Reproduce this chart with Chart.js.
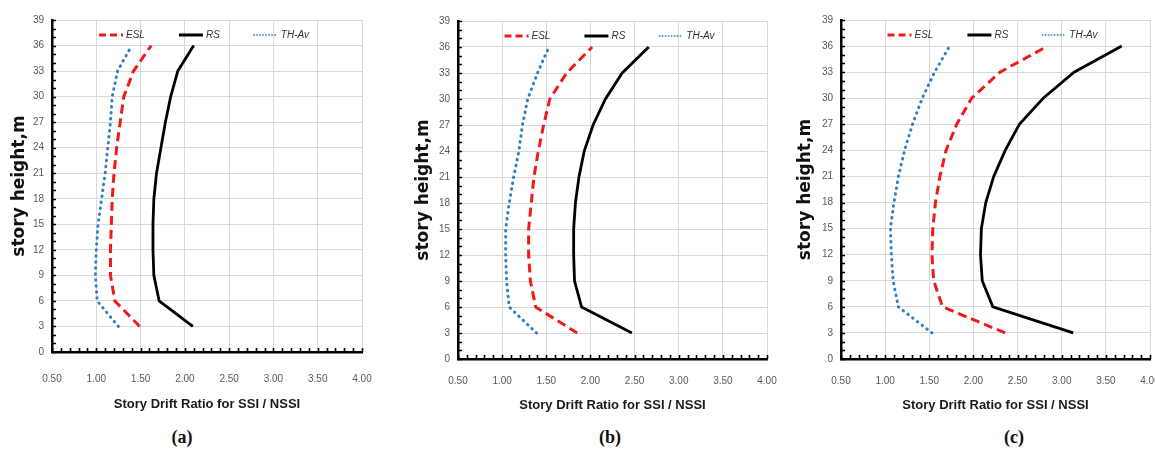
<!DOCTYPE html>
<html>
<head>
<meta charset="utf-8">
<script src="https://cdn.jsdelivr.net/npm/chart.js@4.4.1/dist/chart.umd.min.js"></script>
<style>
  html, body { margin: 0; padding: 0; background: #fff; }
  body { width: 1155px; height: 452px; overflow: hidden; position: relative; }
  canvas { position: absolute; }
  .cap { position: absolute; top: 427px; font: bold 18px 'Liberation Serif', 'DejaVu Serif', serif; color: #111; transform: translateX(-50%); }
</style>
</head>
<body>
<canvas id="panelA" width="380" height="420" style="left:0px;top:0px"></canvas>
<canvas id="panelB" width="379" height="427" style="left:406px;top:0px"></canvas>
<canvas id="panelC" width="366" height="427" style="left:789px;top:0px"></canvas>
<div class="cap" style="left:182px">(a)</div>
<div class="cap" style="left:610px">(b)</div>
<div class="cap" style="left:1014px">(c)</div>

<script>
// Story heights (m) at which drift ratios are reported
const heights = [3, 6, 9, 12, 15, 18, 21, 24, 27, 30, 33, 36];

// Panel (a)
const eslA = [1.49, 1.21, 1.16, 1.16, 1.17, 1.18, 1.20, 1.23, 1.27, 1.31, 1.42, 1.62];
const rsA  = [2.09, 1.71, 1.65, 1.64, 1.64, 1.65, 1.68, 1.73, 1.78, 1.84, 1.92, 2.10];
const thA  = [1.25, 1.01, 0.99, 1.00, 1.02, 1.06, 1.10, 1.13, 1.16, 1.18, 1.24, 1.40];

// Panel (b)
const eslB = [1.85, 1.38, 1.32, 1.30, 1.30, 1.33, 1.36, 1.41, 1.47, 1.54, 1.73, 2.02];
const rsB  = [2.47, 1.90, 1.82, 1.81, 1.81, 1.83, 1.87, 1.93, 2.03, 2.17, 2.36, 2.66];
const thB  = [1.39, 1.08, 1.05, 1.04, 1.04, 1.08, 1.13, 1.19, 1.23, 1.29, 1.40, 1.53];

// Panel (c)
const eslC = [2.36, 1.65, 1.55, 1.53, 1.54, 1.57, 1.62, 1.69, 1.81, 1.98, 2.30, 2.84];
const rsC  = [3.13, 2.22, 2.10, 2.08, 2.09, 2.14, 2.23, 2.36, 2.52, 2.79, 3.14, 3.68];
const thC  = [1.53, 1.15, 1.09, 1.07, 1.06, 1.10, 1.15, 1.22, 1.31, 1.42, 1.56, 1.73];

// Axis ticks
const xTicks = [0.5, 1.0, 1.5, 2.0, 2.5, 3.0, 3.5, 4.0];
const xTickLabels = ['0.50', '1.00', '1.50', '2.00', '2.50', '3.00', '3.50', '4.00'];
const yTicks = [0, 3, 6, 9, 12, 15, 18, 21, 24, 27, 30, 33, 36, 39];
const yTickLabels = ['0', '3', '6', '9', '12', '15', '18', '21', '24', '27', '30', '33', '36', '39'];

const seriesNames = ['ESL', 'RS', 'TH-Av'];
const xTitle = 'Story Drift Ratio for SSI / NSSI';
const yTitle = 'story height,m';

const NARROW = "'Liberation Sans Narrow', 'Liberation Sans', Arial, sans-serif";

// Small inward tick marks along the left and bottom axes
const minorTicks = {
  id: 'minorTicks',
  afterDraw(chart) {
    const { ctx, chartArea: a, scales: { x, y } } = chart;
    ctx.save();
    ctx.strokeStyle = '#000';
    ctx.lineWidth = 1.6;
    ctx.beginPath();
    for (let i = 5; i <= 40; i++) {
      const px = Math.round(x.getPixelForValue(i / 10)) + 0.5;
      ctx.moveTo(px, a.bottom);
      ctx.lineTo(px, a.bottom - 4);
    }
    for (let j = 0; j <= 39; j++) {
      const py = Math.round(y.getPixelForValue(j)) + 0.5;
      ctx.moveTo(a.left, py);
      ctx.lineTo(a.left + 4, py);
    }
    ctx.stroke();
    ctx.restore();
  }
};

// Legend drawn in a row inside the top of the plot area
const insideLegend = {
  id: 'insideLegend',
  afterDraw(chart) {
    const { ctx, chartArea: a } = chart;
    const ds = chart.data.datasets;
    ctx.save();
    ctx.font = "italic 10px " + NARROW;
    const sw = 24, gap = 3, sp = 34;
    const widths = ds.map(d => sw + gap + ctx.measureText(d.label).width);
    const total = widths.reduce((s, w) => s + w, 0) + sp * (ds.length - 1);
    let x = (a.left + a.right) / 2 - total / 2 - 3;
    const yy = a.top + 15;
    ds.forEach((d, i) => {
      ctx.save();
      ctx.strokeStyle = d.borderColor;
      ctx.lineWidth = d.legendWidth || d.borderWidth;
      ctx.lineCap = d.borderCapStyle || 'butt';
      ctx.setLineDash(d.legendDash || d.borderDash || []);
      ctx.beginPath();
      ctx.moveTo(x, yy);
      ctx.lineTo(x + sw, yy);
      ctx.stroke();
      ctx.restore();
      ctx.fillStyle = '#333';
      ctx.textBaseline = 'middle';
      ctx.textAlign = 'left';
      ctx.fillText(d.label, x + sw + gap, yy);
      x += widths[i] + sp;
    });
    ctx.restore();
  }
};

function toPoints(vals) {
  return vals.map((v, i) => ({ x: v, y: heights[i] }));
}

function makePanel(id, esl, rs, th, cfg) {
  const datasets = [
    { label: seriesNames[0], data: toPoints(esl), borderColor: '#f01a1a', borderWidth: 3,
      borderDash: [9, 5], legendDash: [7, 4], legendWidth: 3 },
    { label: seriesNames[1], data: toPoints(rs), borderColor: '#000000', borderWidth: 2.8,
      legendWidth: 3 },
    { label: seriesNames[2], data: toPoints(th), borderColor: '#2f7fc4', borderWidth: 3,
      borderDash: [0.5, 5.5], borderCapStyle: 'round', legendDash: [0.5, 2.5], legendWidth: 1.6 }
  ].map(d => Object.assign({ showLine: true, pointRadius: 0, tension: 0, fill: false }, d));

  new Chart(document.getElementById(id), {
    type: 'scatter',
    data: { datasets },
    options: {
      responsive: false,
      animation: false,
      devicePixelRatio: 1,
      layout: { padding: { top: cfg.top, right: cfg.right, left: 0, bottom: 0 } },
      plugins: { legend: { display: false }, tooltip: { enabled: false } },
      scales: {
        x: {
          type: 'linear', min: 0.5, max: 4,
          afterBuildTicks: s => { s.ticks = xTicks.map(v => ({ value: v })); },
          afterFit: s => { s.height = cfg.xh; s.paddingLeft = 0; s.paddingRight = 0; },
          ticks: { callback: (v, i) => xTickLabels[i], padding: cfg.xLabPad, color: '#595959',
                   font: { family: NARROW, size: 10 }, maxRotation: 0, autoSkip: false },
          grid: { color: '#d9d9d9', lineWidth: 1, drawTicks: false },
          border: { color: '#000', width: 2.5 },
          title: { display: true, text: xTitle, color: '#1a1a1a',
                   font: { family: NARROW, weight: 'bold', size: 13 },
                   padding: { top: 0, bottom: cfg.xTitlePad } }
        },
        y: {
          type: 'linear', min: 0, max: 39,
          afterBuildTicks: s => { s.ticks = yTicks.map(v => ({ value: v })); },
          afterFit: s => { s.width = 52; },
          ticks: { callback: (v, i) => yTickLabels[i], padding: 8, color: '#595959',
                   font: { family: NARROW, size: 10 }, autoSkip: false },
          grid: { color: '#d9d9d9', lineWidth: 1, drawTicks: false },
          border: { color: '#000', width: 2.5 },
          title: { display: true, text: yTitle, color: '#111',
                   font: { family: "'DejaVu Sans', sans-serif", weight: 'bold', size: 17 },
                   padding: { top: cfg.yTitlePad, bottom: 0 } }
        }
      }
    },
    plugins: [minorTicks, insideLegend]
  });
}

makePanel('panelA', eslA, rsA, thA, { top: 20, right: 18, xh: 68, xLabPad: 21, xTitlePad: 8, yTitlePad: 9 });
makePanel('panelB', eslB, rsB, thB, { top: 21, right: 18, xh: 68, xLabPad: 16, xTitlePad: 14, yTitlePad: 7 });
makePanel('panelC', eslC, rsC, thC, { top: 20, right: 5, xh: 68, xLabPad: 16, xTitlePad: 14, yTitlePad: 6 });
</script>
</body>
</html>
